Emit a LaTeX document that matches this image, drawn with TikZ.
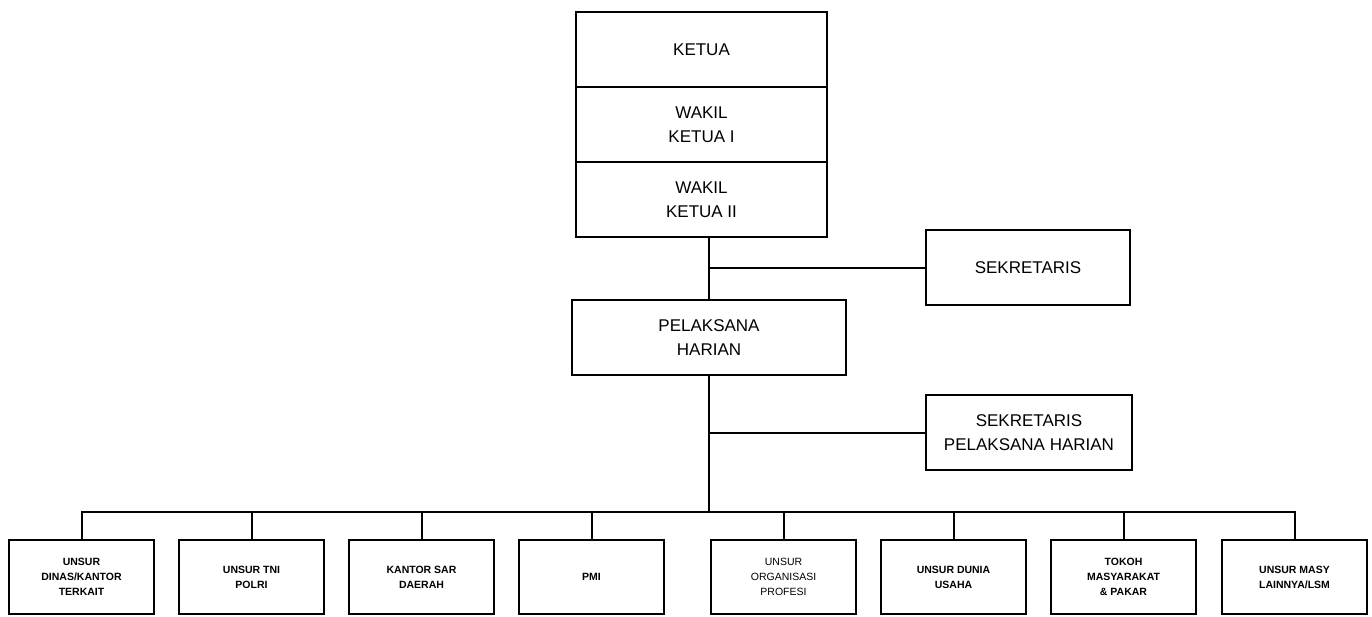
\documentclass[tikz,border=0pt]{standalone}
\usepackage{fontspec}
\setmainfont{Liberation Sans}
\usetikzlibrary{positioning}

\begin{document}
\begin{tikzpicture}[
    x=1pt, y=1pt,
    node distance=0pt and 25pt,
    box/.style={draw, line width=1.8pt, outer sep=0pt, inner sep=2pt, align=center, font=\fontsize{17}{24}\selectfont},
    head/.style={box, minimum width=251pt, minimum height=75pt},
    staff/.style={box, minimum height=75pt},
    unit/.style={box, minimum width=145pt, minimum height=74pt, font=\bfseries\fontsize{10.5}{15}\selectfont},
    link/.style={line width=2pt},
]
\useasboundingbox (0,0) rectangle (1372,-616);

% Pimpinan
\node[head] (ketua) at (701.5,-49.5) {KETUA};
\node[head, below=of ketua] (wakil1) {WAKIL\\KETUA I};
\node[head, below=of wakil1] (wakil2) {WAKIL\\KETUA II};

% Sekretariat dan pelaksana
\node[staff, minimum width=204pt] (sekretaris) at (1028,-267.5) {SEKRETARIS};
\node[staff, minimum width=274pt] (pelaksana) at (709,-337.5) {PELAKSANA\\HARIAN};
\node[staff, minimum width=206pt] (sekph) at (1029,-432.5) {SEKRETARIS\\PELAKSANA HARIAN};

% Unsur
\node[unit] (dinas) at (81.5,-577) {UNSUR\\DINAS/KANTOR\\TERKAIT};
\node[unit, right=of dinas] (tni) {UNSUR TNI\\POLRI};
\node[unit, right=of tni] (sar) {KANTOR SAR\\DAERAH};
\node[unit, right=of sar] (pmi) {PMI};
\node[unit, right=47pt of pmi, font=\fontsize{10.5}{15}\selectfont] (profesi) {UNSUR\\ORGANISASI\\PROFESI};
\node[unit, right=of profesi] (usaha) {UNSUR DUNIA\\USAHA};
\node[unit, right=of usaha] (tokoh) {TOKOH\\MASYARAKAT\\\& PAKAR};
\node[unit, right=26pt of tokoh, minimum width=145pt] (lsm) {UNSUR MASY\\LAINNYA/LSM};

\coordinate (bus) at (709,-512);

% --- Garis ---
\draw[link] (pelaksana.north) -- (pelaksana.north |- wakil2.south);
\draw[link] (sekretaris.west) -- (sekretaris.west -| pelaksana.north);
\draw[link] (pelaksana.south) -- (bus);
\draw[link] (sekph.west) -- (sekph.west -| pelaksana.south);

\draw[link] (dinas.north) |- (bus) -| (lsm.north);
\foreach \u in {tni, sar, pmi, profesi, usaha, tokoh}
    \draw[link] (\u.north) -- (\u.north |- bus);

\end{tikzpicture}
\end{document}
